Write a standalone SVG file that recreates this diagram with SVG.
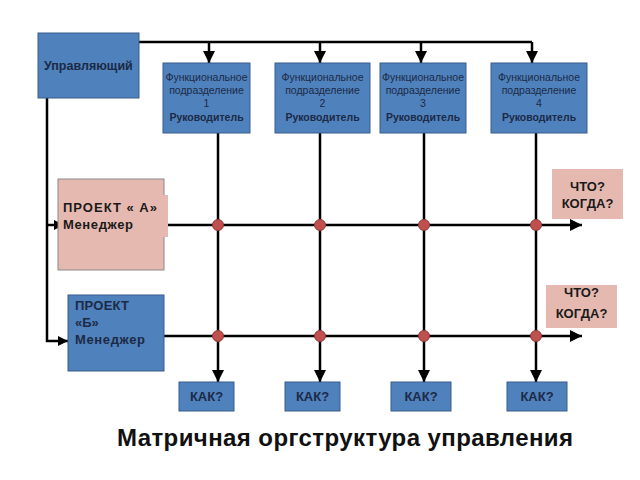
<svg xmlns="http://www.w3.org/2000/svg" width="640" height="480" viewBox="0 0 640 480">
<defs>
<marker id="ah" viewBox="0 0 10 10" refX="10" refY="5" markerWidth="10" markerHeight="10" markerUnits="userSpaceOnUse" orient="auto">
<path d="M0,0 L10,5 L0,10 z" fill="#000"/>
</marker>
<marker id="ahb" viewBox="0 0 10 10" refX="10" refY="5" markerWidth="13" markerHeight="12" markerUnits="userSpaceOnUse" orient="auto">
<path d="M0,0 L10,5 L0,10 z" fill="#000"/>
</marker>
</defs>
<style>
.blue{fill:#4f81bd;stroke:#385d8a;stroke-width:1}
.pink{fill:#e6b9b0}
.t{font-family:"Liberation Sans",Arial,sans-serif;fill:#1c2a45}
.k{fill:#1a1a1a}
.b{font-weight:bold}
.f{font-size:10.5px;text-anchor:middle}
.c{stroke:#000;stroke-width:2.5;fill:none}
.dot{fill:#c0504d;stroke:#8c3836;stroke-width:1}
</style>
<rect width="640" height="480" fill="#fff"/>
<g id="connectors">
<path class="c" d="M139,42 H532"/>
<path class="c" d="M209,42 V63" marker-end="url(#ahb)"/>
<path class="c" d="M320,42 V63" marker-end="url(#ahb)"/>
<path class="c" d="M421,42 V63" marker-end="url(#ahb)"/>
<path class="c" d="M532,42 V63" marker-end="url(#ahb)"/>
<path class="c" d="M47,98 V341 H68" marker-end="url(#ah)"/>
<path class="c" d="M47,225 H64" marker-end="url(#ah)"/>
<path class="c" d="M218,133 V382" marker-end="url(#ahb)"/>
<path class="c" d="M320,133 V382" marker-end="url(#ahb)"/>
<path class="c" d="M424,133 V382" marker-end="url(#ahb)"/>
<path class="c" d="M536,133 V382" marker-end="url(#ahb)"/>
<path class="c" d="M168,225 H582" marker-end="url(#ahb)"/>
<path class="c" d="M164,336 H582" marker-end="url(#ahb)"/>
<circle class="dot" cx="218" cy="225" r="5.5"/>
<circle class="dot" cx="320" cy="225" r="5.5"/>
<circle class="dot" cx="424" cy="225" r="5.5"/>
<circle class="dot" cx="536" cy="225" r="5.5"/>
<circle class="dot" cx="218" cy="336" r="5.5"/>
<circle class="dot" cx="320" cy="336" r="5.5"/>
<circle class="dot" cx="424" cy="336" r="5.5"/>
<circle class="dot" cx="536" cy="336" r="5.5"/>
</g>
<g id="manager">
<rect class="blue" x="38" y="33" width="101" height="65"/>
<text class="t b" x="44" y="70" font-size="12.5">Управляющий</text>
</g>
<g id="func1">
<rect class="blue" x="163" y="63" width="87" height="70"/>
<text class="t f" x="206.5" y="81">Функциональное</text>
<text class="t f" x="206.5" y="94">подразделение</text>
<text class="t f" x="206.5" y="107">1</text>
<text class="t f b" x="206.5" y="121">Руководитель</text>
</g>
<g id="func2">
<rect class="blue" x="275" y="63" width="95" height="70"/>
<text class="t f" x="322.5" y="81">Функциональное</text>
<text class="t f" x="322.5" y="94">подразделение</text>
<text class="t f" x="322.5" y="107">2</text>
<text class="t f b" x="322.5" y="121">Руководитель</text>
</g>
<g id="func3">
<rect class="blue" x="380" y="63" width="86" height="70"/>
<text class="t f" x="423" y="81">Функциональное</text>
<text class="t f" x="423" y="94">подразделение</text>
<text class="t f" x="423" y="107">3</text>
<text class="t f b" x="423" y="121">Руководитель</text>
</g>
<g id="func4">
<rect class="blue" x="491" y="63" width="96" height="70"/>
<text class="t f" x="539" y="81">Функциональное</text>
<text class="t f" x="539" y="94">подразделение</text>
<text class="t f" x="539" y="107">4</text>
<text class="t f b" x="539" y="121">Руководитель</text>
</g>
<g id="projectA">
<rect class="pink" x="58" y="179" width="106" height="91" stroke="#8a8a8a" stroke-width="1"/>
<rect class="pink" x="160" y="195" width="8" height="42"/>
<text class="t k b" x="63" y="212" font-size="13" textLength="94">ПРОЕКТ « А»</text>
<text class="t k b" x="63" y="229" font-size="13" textLength="70">Менеджер</text>
</g>
<g id="projectB">
<rect class="blue" x="68" y="295" width="96" height="76"/>
<text class="t b" x="75" y="310" font-size="13" textLength="54">ПРОЕКТ</text>
<text class="t b" x="75" y="327" font-size="13">«Б»</text>
<text class="t b" x="75" y="344" font-size="13" textLength="70">Менеджер</text>
</g>
<g id="whatA">
<rect class="pink" x="552" y="169" width="71" height="50"/>
<text class="t k b" x="587.5" y="191" font-size="13" text-anchor="middle">ЧТО?</text>
<text class="t k b" x="587.5" y="208" font-size="13" text-anchor="middle">КОГДА?</text>
</g>
<g id="whatB">
<rect class="pink" x="546" y="285" width="71" height="43"/>
<text class="t k b" x="581.5" y="297" font-size="13" text-anchor="middle">ЧТО?</text>
<text class="t k b" x="581.5" y="318" font-size="13" text-anchor="middle">КОГДА?</text>
</g>
<g id="how1">
<rect class="blue" x="179" y="382" width="55" height="29"/>
<text class="t b" x="206.5" y="401" font-size="13" text-anchor="middle">КАК?</text>
</g>
<g id="how2">
<rect class="blue" x="285" y="382" width="55" height="29"/>
<text class="t b" x="312.5" y="401" font-size="13" text-anchor="middle">КАК?</text>
</g>
<g id="how3">
<rect class="blue" x="391" y="382" width="60" height="29"/>
<text class="t b" x="421" y="401" font-size="13" text-anchor="middle">КАК?</text>
</g>
<g id="how4">
<rect class="blue" x="507" y="382" width="60" height="29"/>
<text class="t b" x="537" y="401" font-size="13" text-anchor="middle">КАК?</text>
</g>
<text x="117" y="446" font-family="'Liberation Sans',Arial,sans-serif" font-weight="bold" font-size="24" textLength="456" fill="#111">Матричная оргструктура управления</text>
</svg>
